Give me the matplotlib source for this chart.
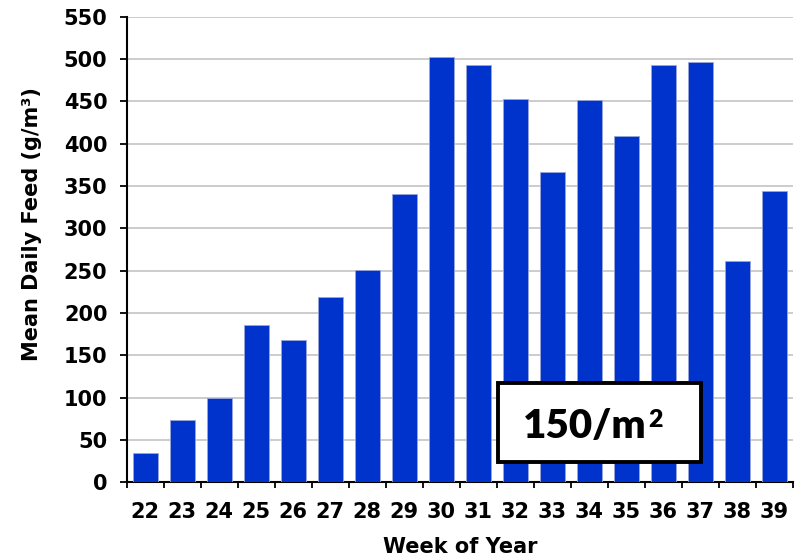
import numpy as np
import matplotlib.pyplot as plt
from matplotlib.patches import Rectangle
from matplotlib.ticker import FixedLocator

# Datos
weeks = [22, 23, 24, 25, 26, 27, 28, 29, 30, 31, 32, 33, 34, 35, 36, 37, 38, 39]
feed = [34, 74, 100, 186, 168, 219, 251, 340, 502, 493, 453, 367, 452, 409, 493, 496, 261, 344]
y_ticks = list(range(0, 551, 50))
box_text = "150/m"
box_sup = "2"

plt.rcParams['font.family'] = ['DejaVu Sans']

fig = plt.figure(figsize=(8.08, 5.6), dpi=100)
ax = fig.add_axes([0.157, 0.139, 0.824, 0.831])

x = np.arange(len(weeks))
ax.bar(x, feed, width=0.68, color='#0033CC', edgecolor='#9aa6d8', linewidth=0.6, zorder=3)

ax.set_xlim(-0.5, len(weeks) - 0.5)
ax.set_ylim(0, 550)
ax.set_yticks(y_ticks)
ax.set_xticks(x)
ax.set_xticklabels([str(w) for w in weeks])
ax.xaxis.set_minor_locator(FixedLocator(np.arange(-0.5, len(weeks), 1)))
ax.tick_params(axis='x', which='major', length=0, pad=14, labelsize=15)
ax.tick_params(axis='x', which='minor', length=4.5, width=1.3, direction='out')
ax.tick_params(axis='y', length=5, width=1.3, direction='out', labelsize=15, pad=9)
for lab in ax.get_xticklabels() + ax.get_yticklabels():
    lab.set_fontweight('bold')

ax.yaxis.grid(True, color='#c4c4c4', linewidth=1.2, zorder=0)
ax.set_axisbelow(True)
for s in ['top', 'right']:
    ax.spines[s].set_visible(False)
for s in ['left', 'bottom']:
    ax.spines[s].set_linewidth(1.5)

ax.set_ylabel('Mean Daily Feed (g/m³)', fontsize=15, fontweight='bold')
ax.yaxis.set_label_coords(-0.128, 0.555)
ax.set_xlabel('Week of Year', fontsize=15, fontweight='bold', labelpad=11)

# cuadro con la densidad
ax.add_patch(Rectangle((0.557, 0.043), 0.306, 0.170, transform=ax.transAxes,
                       facecolor='white', edgecolor='black', linewidth=2.8, zorder=5))
ax.text(0.781, 0.0946, box_text, transform=ax.transAxes, ha='right', va='baseline',
        fontsize=29, fontweight='heavy', family=['Lato', 'DejaVu Sans'], zorder=6)
ax.text(0.783, 0.119, box_sup, transform=ax.transAxes, ha='left', va='baseline',
        fontsize=18, fontweight='heavy', family=['Lato', 'DejaVu Sans'], zorder=6)

fig.savefig('out.png', dpi=100)
